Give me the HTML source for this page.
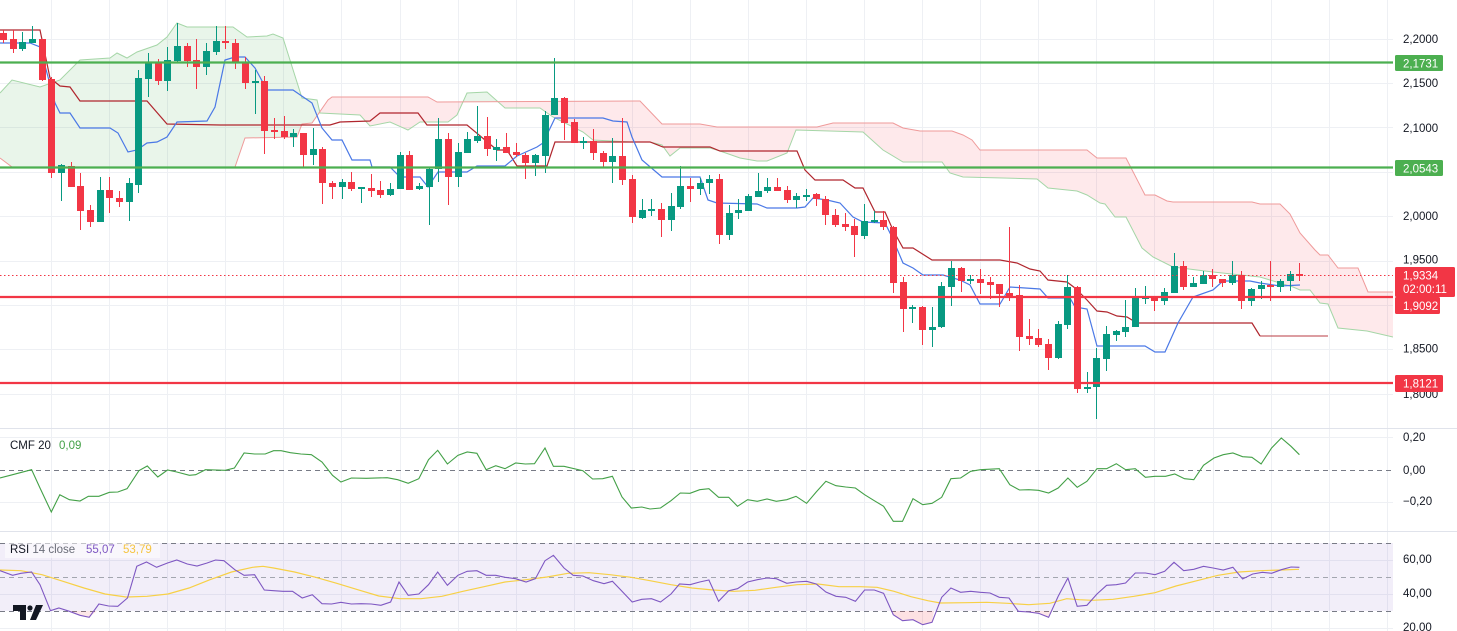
<!DOCTYPE html>
<html><head><meta charset="utf-8"><style>
html,body{margin:0;padding:0;background:#fff;}
body{width:1457px;height:631px;overflow:hidden;}
svg{display:block;font-family:"Liberation Sans",sans-serif;}
</style></head><body>
<svg width="1457" height="631" viewBox="0 0 1457 631" xmlns="http://www.w3.org/2000/svg">
<defs>
<clipPath id="main"><rect x="0" y="0" width="1393" height="428"/></clipPath>
<clipPath id="aboveB"><polygon points="0,158 12,167 235,167 245,138 297,137 302,124 312,123 328,100 332,97 428,97 437,102 640,101 662,124 700,124 717,127 817,127 833,123 893,123 903,128 920,131 952,131 963,135 972,140 980,150 1087,150 1097,158 1126,158 1145,195 1155,195 1167,201 1173,202 1252,202 1260,204 1280,204 1290,214 1300,233 1315,250 1320,255 1328,255 1338,268 1358,268 1368,292 1393,292 1393,-10 0,-10"/></clipPath>
<clipPath id="aboveA"><polygon points="0,93 12,80 40,87 60,80 80,60 110,58 117,53 127,58 137,52 157,45 167,37 177,23 187,27 233,27 247,37 267,36 273,34 283,38 302,98 317,100 320,113 360,115 370,126 390,122 408,130 420,122 448,122 457,115 467,93 487,92 505,108 540,108 553,117 573,127 583,132 593,140 630,142 650,142 662,145 670,156 680,148 710,148 720,151 740,158 757,161 767,161 787,153 796,130 863,132 883,150 903,162 942,162 950,173 963,177 1003,178 1037,179 1048,188 1077,191 1087,195 1100,203 1105,204 1115,217 1126,217 1142,248 1153,257 1173,267 1213,272 1260,277 1293,287 1300,290 1310,290 1320,303 1328,304 1338,328 1367,331 1393,337 1393,-10 0,-10"/></clipPath>
</defs>
<rect x="0" y="0" width="1457" height="631" fill="#fff"/>
<!-- vertical grid -->
<g stroke="#eef0f4" stroke-width="1">
<path d="M51.5 0V631M109.5 0V631M167.5 0V631M225.5 0V631M283.5 0V631M341.5 0V631M400.5 0V631M458.5 0V631M516.5 0V631M574.5 0V631M632.5 0V631M690.5 0V631M748.5 0V631M806.5 0V631M864.5 0V631M922.5 0V631M980.5 0V631M1038.5 0V631M1096.5 0V631M1154.5 0V631M1213.5 0V631M1271.5 0V631M1329.5 0V631M1387.5 0V631"/>
<path d="M0 39.5H1393M0 83.5H1393M0 127.5H1393M0 172.5H1393M0 216.5H1393M0 261.5H1393M0 305.5H1393M0 349.5H1393M0 394.5H1393"/>
<path d="M0 437.5H1393M0 502.5H1393M0 560.5H1393M0 594.5H1393M0 628.5H1393"/>
</g>
<!-- pane separators -->
<path d="M0 428.5H1457M0 531.5H1457" stroke="#e0e3eb" stroke-width="1"/>

<g clip-path="url(#main)">
<!-- cloud fills -->
<polygon clip-path="url(#aboveB)" fill="rgba(76,175,80,0.12)" points="0,93 12,80 40,87 60,80 80,60 110,58 117,53 127,58 137,52 157,45 167,37 177,23 187,27 233,27 247,37 267,36 273,34 283,38 302,98 317,100 320,113 360,115 370,126 390,122 408,130 420,122 448,122 457,115 467,93 487,92 505,108 540,108 553,117 573,127 583,132 593,140 630,142 650,142 662,145 670,156 680,148 710,148 720,151 740,158 757,161 767,161 787,153 796,130 863,132 883,150 903,162 942,162 950,173 963,177 1003,178 1037,179 1048,188 1077,191 1087,195 1100,203 1105,204 1115,217 1126,217 1142,248 1153,257 1173,267 1213,272 1260,277 1293,287 1300,290 1310,290 1320,303 1328,304 1338,328 1367,331 1393,337 1393,440 0,440"/>
<polygon clip-path="url(#aboveA)" fill="rgba(242,54,69,0.11)" points="0,158 12,167 235,167 245,138 297,137 302,124 312,123 328,100 332,97 428,97 437,102 640,101 662,124 700,124 717,127 817,127 833,123 893,123 903,128 920,131 952,131 963,135 972,140 980,150 1087,150 1097,158 1126,158 1145,195 1155,195 1167,201 1173,202 1252,202 1260,204 1280,204 1290,214 1300,233 1315,250 1320,255 1328,255 1338,268 1358,268 1368,292 1393,292 1393,440 0,440"/>
<polyline fill="none" stroke="#a5d6a7" stroke-width="1" points="0,93 12,80 40,87 60,80 80,60 110,58 117,53 127,58 137,52 157,45 167,37 177,23 187,27 233,27 247,37 267,36 273,34 283,38 302,98 317,100 320,113 360,115 370,126 390,122 408,130 420,122 448,122 457,115 467,93 487,92 505,108 540,108 553,117 573,127 583,132 593,140 630,142 650,142 662,145 670,156 680,148 710,148 720,151 740,158 757,161 767,161 787,153 796,130 863,132 883,150 903,162 942,162 950,173 963,177 1003,178 1037,179 1048,188 1077,191 1087,195 1100,203 1105,204 1115,217 1126,217 1142,248 1153,257 1173,267 1213,272 1260,277 1293,287 1300,290 1310,290 1320,303 1328,304 1338,328 1367,331 1393,337"/>
<polyline fill="none" stroke="#ef9a9a" stroke-width="1" points="0,158 12,167 235,167 245,138 297,137 302,124 312,123 328,100 332,97 428,97 437,102 640,101 662,124 700,124 717,127 817,127 833,123 893,123 903,128 920,131 952,131 963,135 972,140 980,150 1087,150 1097,158 1126,158 1145,195 1155,195 1167,201 1173,202 1252,202 1260,204 1280,204 1290,214 1300,233 1315,250 1320,255 1328,255 1338,268 1358,268 1368,292 1393,292"/>
<!-- kijun -->
<polyline fill="none" stroke="#b0262e" stroke-width="1.2" points="0,30 40,30 50,78 60,86 70,87 80,101 147,101 167,124 220,125 330,125 340,122 370,121 380,113 418,113 427,125 467,125 497,150 507,150 517,166 547,166 555,142 650,142 663,147 710,147 720,151 797,151 805,170 815,180 843,180 855,188 863,188 875,212 885,212 893,230 903,248 913,248 932,260 1000,260 1017,263 1030,269 1040,271 1048,280 1067,282 1075,288 1087,300 1097,311 1107,312 1117,316 1127,317 1137,323 1252,323 1260,336"/>
<path d="M1260 336H1328" stroke="rgba(176,38,46,0.6)" stroke-width="1.5"/>
<!-- tenkan -->
<polyline fill="none" stroke="#4a78e6" stroke-width="1.2" points="0,43 30,43 40,47 55,103 60,113 70,113 80,128 110,128 118,133 128,152 137,150 147,143 157,142 167,137 177,122 207,121 215,107 225,60 235,57 245,57 255,68 267,90 293,90 312,103 322,128 332,140 342,140 352,160 370,160 372,167 390,167 400,177 420,177 428,187 438,172 467,172 477,166 505,166 517,156 537,147 543,143 555,118 603,118 613,121 627,122 632,137 642,160 662,177 700,177 708,200 717,203 757,204 767,208 797,208 805,207 813,198 827,200 840,203 853,217 863,222 885,223 892,237 903,263 913,268 923,275 943,275 953,278 960,280 970,285 980,304 1000,304 1010,287 1040,289 1048,298 1070,298 1075,307 1087,309 1097,346 1145,346 1155,352 1165,352 1178,323 1193,297 1213,290 1223,281 1250,281 1260,283 1280,286 1300,285"/>
<!-- candles -->
<path stroke="#089981" stroke-width="1" fill="none" d="M22.5 32V51M32.5 26V43M61.5 164V201M100.5 177V222M129.5 178V221M138.5 70V193M148.5 53V97M167.5 47V91M177.5 23V63M206.5 43V75M216.5 26V55M255.5 70V114M293.5 129V147M313.5 128V165M342.5 179V199M361.5 187V203M390.5 183V196M400.5 152V189M419.5 183V190M429.5 167V225M438.5 118V182M458.5 143V187M467.5 132V153M477.5 106V143M496.5 139V161M535.5 154V176M545.5 111V173M554.5 58V115M583.5 137V149M612.5 138V183M642.5 199V219M651.5 199V216M671.5 193V231M680.5 166V209M700.5 178V195M709.5 175V194M729.5 205V240M738.5 199V219M748.5 194V211M758.5 173V197M767.5 178V193M796.5 193V208M806.5 189V201M864.5 204V239M874.5 211V223M912.5 305V323M932.5 307V347M941.5 282V328M951.5 261V306M970.5 275V284M1058.5 321V359M1067.5 275V329M1087.5 372V393M1096.5 348V419M1106.5 326V371M1116.5 330V341M1125.5 300V337M1135.5 288V327M1145.5 286V304M1164.5 288V305M1174.5 253V293M1193.5 277V287M1203.5 271V284M1232.5 261V285M1251.5 288V306M1261.5 281V299M1280.5 279V292M1290.5 271V291"/>
<path fill="#089981" d="M19 42h7V49h-7zM29 39h7V43h-7zM58 165h7V173h-7zM97 190h7V222h-7zM126 183h7V202h-7zM135 78h7V185h-7zM145 62h7V79h-7zM164 60h7V81h-7zM174 46h7V61h-7zM203 51h7V67h-7zM213 41h7V52h-7zM252 81h7V83h-7zM290 133h7V137h-7zM310 149h7V155h-7zM339 182h7V187h-7zM358 187h7V189h-7zM387 189h7V195h-7zM397 155h7V189h-7zM416 186h7V189h-7zM426 169h7V187h-7zM435 139h7V169h-7zM455 152h7V177h-7zM464 139h7V153h-7zM474 136h7V141h-7zM493 147h7V150h-7zM532 155h7V163h-7zM542 115h7V156h-7zM551 98h7V115h-7zM580 141h7V143h-7zM609 156h7V162h-7zM639 210h7V218h-7zM648 209h7V211h-7zM668 206h7V220h-7zM677 186h7V207h-7zM697 183h7V189h-7zM706 179h7V183h-7zM726 213h7V235h-7zM735 210h7V213h-7zM745 196h7V211h-7zM755 191h7V197h-7zM764 187h7V191h-7zM793 196h7V200h-7zM803 195h7V197h-7zM861 221h7V236h-7zM871 220h7V222h-7zM909 307h7V309h-7zM929 327h7V330h-7zM938 286h7V327h-7zM948 268h7V287h-7zM967 279h7V281h-7zM1055 324h7V358h-7zM1064 287h7V325h-7zM1084 387h7V389h-7zM1093 358h7V387h-7zM1103 334h7V359h-7zM1113 331h7V335h-7zM1122 327h7V332h-7zM1132 297h7V327h-7zM1142 297h7V299h-7zM1161 292h7V301h-7zM1171 266h7V293h-7zM1190 283h7V287h-7zM1200 275h7V284h-7zM1229 275h7V283h-7zM1248 289h7V301h-7zM1258 285h7V289h-7zM1277 281h7V287h-7zM1287 274h7V281h-7z"/>
<path stroke="#f23645" stroke-width="1" fill="none" d="M3.5 30V43M13.5 30V53M42.5 39V81M51.5 77V178M71.5 162V187M80.5 173V230M90.5 205V227M109.5 177V213M119.5 191V207M158.5 59V85M187.5 43V67M196.5 39V89M225.5 26V49M235.5 39V69M245.5 57V89M264.5 76V154M274.5 118V139M284.5 116V139M303.5 133V167M322.5 147V204M332.5 181V199M351.5 172V191M371.5 174V197M380.5 181V198M409.5 151V190M448.5 133V205M487.5 117V156M506.5 133V153M516.5 143V157M525.5 153V179M564.5 97V140M574.5 119V143M593.5 129V160M603.5 151V167M622.5 118V185M632.5 175V223M661.5 203V237M690.5 178V202M719.5 174V244M777.5 178V191M787.5 186V203M816.5 193V206M825.5 196V225M835.5 209V227M845.5 213V231M854.5 219V257M883.5 211V230M893.5 226V293M903.5 277V332M922.5 306V345M961.5 267V292M980.5 269V294M990.5 277V299M999.5 284V307M1009.5 227V301M1019.5 285V351M1029.5 319V345M1038.5 329V347M1048.5 339V370M1077.5 286V393M1154.5 297V311M1183.5 261V290M1212.5 269V287M1222.5 279V287M1241.5 271V309M1270.5 261V301M1299.5 263V281"/>
<path fill="#f23645" d="M0 33h7V40h-7zM10 39h7V49h-7zM39 39h7V80h-7zM48 79h7V173h-7zM68 166h7V187h-7zM77 186h7V211h-7zM87 210h7V222h-7zM106 190h7V198h-7zM116 198h7V202h-7zM155 62h7V81h-7zM184 46h7V61h-7zM193 60h7V67h-7zM222 41h7V43h-7zM232 43h7V63h-7zM242 63h7V83h-7zM261 81h7V131h-7zM271 130h7V132h-7zM281 131h7V137h-7zM300 133h7V155h-7zM319 149h7V183h-7zM329 183h7V187h-7zM348 182h7V189h-7zM368 188h7V191h-7zM377 190h7V195h-7zM406 155h7V190h-7zM445 139h7V177h-7zM484 136h7V149h-7zM503 147h7V153h-7zM513 152h7V155h-7zM522 155h7V163h-7zM561 98h7V123h-7zM571 122h7V143h-7zM590 141h7V153h-7zM600 153h7V162h-7zM619 156h7V180h-7zM629 179h7V217h-7zM658 209h7V220h-7zM687 186h7V189h-7zM716 179h7V235h-7zM774 187h7V191h-7zM784 190h7V200h-7zM813 194h7V199h-7zM822 199h7V215h-7zM832 215h7V225h-7zM842 224h7V227h-7zM851 226h7V235h-7zM880 220h7V227h-7zM890 227h7V283h-7zM900 282h7V309h-7zM919 307h7V330h-7zM958 268h7V281h-7zM977 279h7V283h-7zM987 282h7V285h-7zM996 284h7V294h-7zM1006 293h7V296h-7zM1016 295h7V337h-7zM1026 336h7V339h-7zM1035 338h7V345h-7zM1045 344h7V358h-7zM1074 287h7V389h-7zM1151 297h7V301h-7zM1180 266h7V287h-7zM1209 275h7V279h-7zM1219 279h7V283h-7zM1238 275h7V301h-7zM1267 285h7V287h-7zM1296 274h7V276h-7z"/>
<!-- level lines -->
<path d="M0 62.5H1393M0 167.5H1393" stroke="#4caf50" stroke-width="2.2"/>
<path d="M0 297H1393M0 383H1393" stroke="#f23645" stroke-width="2.2"/>
<path d="M0 275.5H1393" stroke="#f23645" stroke-width="1" stroke-dasharray="1.5 2.5"/>
</g>

<!-- CMF pane -->
<path d="M0 470.5H1393" stroke="#787b86" stroke-width="1" stroke-dasharray="5 4"/>
<polyline fill="none" stroke="#43a047" stroke-width="1.1" points="0,478 12.6,474.7 31.6,469.7 40,488 51.3,512 59.8,494.7 69.4,499.7 80,501 88.4,496.3 98.9,496.3 109.4,492.3 117.8,492 127.1,488.7 138.9,470.7 147.3,466 157.8,477 167.5,470 176.8,472 189.4,475.3 195.7,474.7 205.4,469.7 225.2,470.3 234.4,468 244.1,453 254.6,454 265.2,454 273.6,450.7 281.1,450.7 290.4,452.7 300.9,454 311.4,454.7 322,462 332.5,475.3 340.9,482 351.4,478 366.2,478.3 387.2,477.7 397.7,479.7 408.2,483.3 418.8,478.7 428.5,459.7 437.7,450.3 447.4,464 457.9,455.3 467.2,452 476.9,453.3 486.1,469.7 495.8,465.7 505,468.7 515.6,463 525.3,464 534.5,463.7 545,448 553.4,466.3 564,466.3 582.9,470.7 592.6,479 602.7,478.7 612.4,476.3 622,497 631.3,508 641.8,507 650,509 660.5,508 671,500.7 680.3,493 690,493.3 699.7,489.7 708.9,488.7 718.6,497.3 728.7,497.3 737.5,506.3 747.6,499.7 757.3,501.3 767,499 776.3,501.3 786.8,499.7 796,496.3 806.6,503.3 816.2,492 825.9,481.3 836,485.7 845.7,487 855.4,488 864.6,494.7 874.3,500.7 883.6,506.3 893.3,521.3 902.5,521.3 913,498.7 922.7,504.7 932,503.3 941.7,497.3 950.9,478.7 960.6,478 970.7,471.3 980.4,469.7 999.3,468.7 1009.8,484.7 1019.5,490 1028.8,489.7 1038.5,490.3 1048.6,493 1058.2,488 1067.9,478 1077.2,487.3 1086.9,481.3 1097,468.7 1106.6,468.7 1116.3,463.7 1125.6,469.7 1135.3,468.7 1145.4,477.3 1155,476.3 1165.6,476.3 1174.8,474 1184.5,478.7 1193.8,479.7 1203.5,465.3 1214,458 1223.2,454.7 1232.9,453 1242.6,456.7 1251.9,457.3 1261.1,464 1271.6,448 1281.3,438 1291,446.3 1299.4,454.7"/>
<text x="10" y="449" font-size="11.5" fill="#131722">CMF 20</text>
<text x="59" y="449" font-size="11.5" fill="#43a047">0,09</text>

<!-- RSI pane -->
<rect x="0" y="543" width="1393" height="68" fill="rgba(126,87,194,0.1)"/>
<path d="M0 543.5H1393M0 611.5H1393" stroke="#787b86" stroke-width="1" stroke-dasharray="5 4"/>
<path d="M0 577.5H1393" stroke="#a3a6af" stroke-width="1" stroke-dasharray="5 4"/>
<polygon fill="rgba(242,54,69,0.15)" points="892,611 893.3,614.7 902.5,620.7 913,619.7 922.7,624.7 932,622.3 934,611"/>
<polygon fill="rgba(242,54,69,0.12)" points="68,611 80,615.3 89.2,617.3 97,611"/>
<polygon fill="rgba(242,54,69,0.12)" points="1017,611 1028.8,612 1038.5,613.3 1048.6,617.3 1052,611"/>
<polyline fill="none" stroke="#f7d046" stroke-width="1.2" points="0,570 21,570.7 42,574.7 63,581.3 84,588 105,594 126,597 147,596.3 168,594 189,588 210,579.7 231.5,572 252.5,567.3 263,566.3 273.6,568 294.6,572 315.7,577.3 336.7,583.3 357.7,589.7 378.8,596 399.8,598.7 420.9,598.7 441.9,596.3 463,591.3 484,586.7 505,582 526,579.7 547,577 568,573.3 589,572.7 610,574.7 631,577.3 650,580.7 671,584.7 692,588 713,590 734,591.3 755,590.3 776,587.3 797,584.7 818,584 839,586.7 860.4,586.7 877,587.3 894,591.3 911,596.7 927.8,600.7 940.4,603 965.7,602.7 986.7,602.3 1007.7,603.3 1028.8,604.7 1049.8,603.3 1066.7,598.7 1079.3,599.7 1092,600.3 1113,599.3 1134,596.3 1155,592.7 1176,586 1197,580.7 1218,575.3 1239,572 1260,570.7 1281,570 1299,569.3"/>
<polyline fill="none" stroke="#7e57c2" stroke-width="1.1" points="0,570.7 12.6,575.3 21,573.3 31.6,572 40,584.7 50.5,610.7 58.9,608 69.4,611.3 80,615.3 89.2,617.3 98.9,604 108.6,606 117.8,606.3 127.5,598 136.8,566.3 146.5,562 156.6,567.3 167.5,563 176.8,560 187.3,564 197,566 207.1,563 215.5,560 223.9,560.7 234.8,569.7 244.1,575.3 254.6,574.7 264.3,590 273.6,590.7 282.8,591.3 292.5,591.3 302.2,598 312.3,594.7 322,603.7 331.6,604 340.9,602.3 351.4,604 361.1,603.7 371.2,604 380.9,605.3 390.6,602 399,582 408.2,595.3 418.8,594 428.5,584.7 437.7,572 447.4,585.3 457.9,575.3 467.2,571.3 476.9,570.7 486.1,575.3 495.8,575.3 505,577.3 515.6,578.7 526.1,582 535.4,578.7 545,560.7 553.4,555.3 564,568 573.2,575.3 582.9,576 593.4,580.7 604,583.7 612.4,581.3 622,591.3 632.2,602 641.8,599.3 651.5,598.7 660.5,602 671,594 679.5,584 690,584.7 699.7,582 708.9,580 718.6,601.3 728.7,590.7 737.5,588.7 747.6,582 757.3,579.7 767,578 776.3,578.7 786.8,583.3 796,582 806.6,581.3 816.2,584 825.9,592 836,596.3 845.7,597.3 855.4,601.3 864.6,590 874.3,590 883.6,593.3 893.3,614.7 902.5,620.7 913,619.7 922.7,624.7 932,622.3 941.7,597.3 950.9,588 960.6,592.3 970.7,591.3 980.4,592.3 990,593 999.3,597.3 1009,598 1018.3,611.3 1028.8,612 1038.5,613.3 1048.6,617.3 1058.2,596.3 1067.9,578 1077.2,606.3 1086.9,605.3 1097,594 1106.6,585.3 1116.3,584.7 1125.6,583 1135.3,573 1145.4,573 1155,574.7 1164.7,571.3 1174,562.3 1183.7,570.7 1193.8,569.3 1203.5,566.3 1213.1,568 1223.2,570 1232.9,567.3 1242.6,579 1252.7,574 1262.4,572.3 1271.6,573.3 1281.3,569.7 1291,567 1299.4,567.3"/>
<rect x="5" y="541" width="155" height="17" fill="rgba(255,255,255,0.55)"/>
<text x="10" y="553" font-size="11.5" fill="#131722">RSI <tspan fill="#6a6d78">14 close</tspan></text>
<text x="86" y="553" font-size="11.5" fill="#7e57c2">55,07</text>
<text x="123" y="553" font-size="11.5" fill="#f5c542">53,79</text>

<!-- TradingView logo -->
<g fill="#131722">
<path d="M13 605h13v15h-6v-9h-7z"/>
<circle cx="30" cy="608" r="2.6"/>
<path d="M36 605h7l-7 15h-6z"/>
</g>

<!-- price axis -->
<g font-size="11.5" fill="#131722">
<text x="1403" y="43">2,2000</text>
<text x="1403" y="87">2,1500</text>
<text x="1403" y="132">2,1000</text>
<text x="1403" y="220">2,0000</text>
<text x="1403" y="263.5">1,9500</text>
<text x="1403" y="352.5">1,8500</text>
<text x="1403" y="398">1,8000</text>
<text x="1403" y="441">0,20</text>
<text x="1403" y="474">0,00</text>
<text x="1403" y="505">−0,20</text>
<text x="1403" y="563">60,00</text>
<text x="1403" y="597">40,00</text>
<text x="1403" y="631">20,00</text>
</g>
<g font-size="11.5" fill="#fff">
<rect x="1395" y="55" width="48" height="16" rx="1.5" fill="#4caf50"/>
<text x="1403" y="67.5">2,1731</text>
<rect x="1395" y="160" width="48" height="16" rx="1.5" fill="#4caf50"/>
<text x="1403" y="172.5">2,0543</text>
<rect x="1395" y="267" width="60" height="30" rx="1.5" fill="#f23645"/>
<text x="1403" y="279.5">1,9334</text>
<text x="1403" y="293">02:00:11</text>
<rect x="1395" y="297" width="45" height="17" rx="1.5" fill="#f23645"/>
<text x="1403" y="310">1,9092</text>
<rect x="1395" y="375" width="48" height="17" rx="1.5" fill="#f23645"/>
<text x="1403" y="387.5">1,8121</text>
</g>
</svg>
</body></html>
